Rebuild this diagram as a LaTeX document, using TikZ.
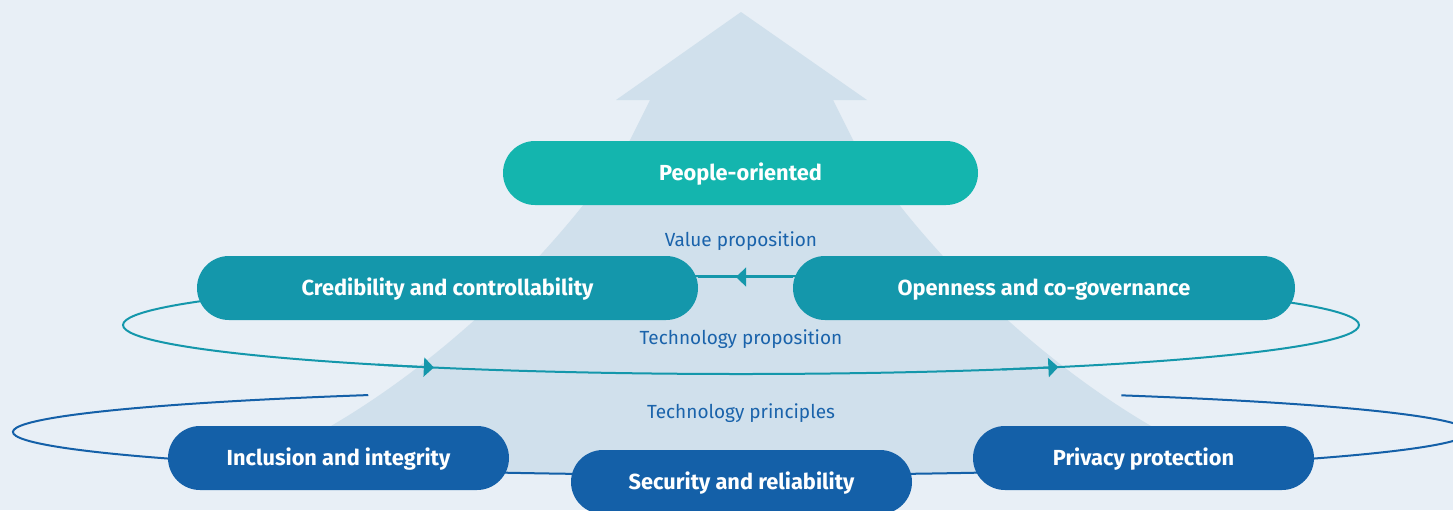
\documentclass[tikz,border=0pt]{standalone}
\usepackage{fontspec}
\setmainfont{Fira Sans}
\usetikzlibrary{arrows.meta,decorations.markings}
\definecolor{bgcol}{HTML}{E8EFF6}
\definecolor{arrowcol}{HTML}{D0E0EC}
\definecolor{topcol}{HTML}{14B5AE}
\definecolor{midcol}{HTML}{1497AB}
\definecolor{lowcol}{HTML}{1460A8}
\definecolor{labelcol}{HTML}{1A63AB}
\begin{document}
\begin{tikzpicture}[x=0.5pt, y=-0.5pt,
    pill/.style={rounded corners=16pt, minimum height=32pt, inner sep=0pt, text=white,
      text height=7.6pt, text depth=0pt, font=\bfseries\fontsize{10.9}{12}\selectfont},
    toppill/.style={pill, fill=topcol},
    midpill/.style={pill, fill=midcol},
    lowpill/.style={pill, fill=lowcol},
    caption/.style={text=labelcol, font=\fontsize{9.5}{11}\selectfont},
    tealring/.style={midcol, line width=1pt},
    bluering/.style={lowcol, line width=1pt},
    tip/.style={-{Triangle[length=5pt, width=9.5pt]}},
    midarrow/.style={postaction={decorate}, decoration={markings,
      mark=at position 0.6 with {\arrow{Triangle[length=5pt, width=9.5pt]}}}}]
    \useasboundingbox (0,0) rectangle (1453,510);
    \clip (0,0) rectangle (1453,510);
    \fill[bgcol] (0,0) rectangle (1453,510);

    % big arrow in the back
    \fill[arrowcol] (741,12) -- (867,100) -- (833,100) -- (853,140)
        .. controls (942,280) and (1102,420) .. (1252,474) -- (230,474)
        .. controls (380,420) and (540,280) .. (630,140) -- (650,100) -- (616,100) -- cycle;

    \coordinate (techring) at (741,325);
    \coordinate (princring) at (741,432);
    \draw[tealring] (techring) ellipse [x radius=618, y radius=49];
    \draw[tealring, tip] (techring) ++(126:618 and 49) arc[start angle=126, end angle=119.8, x radius=618, y radius=49];
    \draw[tealring, tip] (techring) ++(65:618 and 49) arc[start angle=65, end angle=59.1, x radius=618, y radius=49];
    \draw[bluering] (princring) ++(301.5:728 and 43) arc[start angle=301.5, end angle=599.2, x radius=728, y radius=43];

    \node[toppill, minimum width=237.5pt] (people) at (740.5,173) {People-oriented};
    \node[midpill, minimum width=250.5pt] (cred) at (447.5,288) {Credibility and controllability};
    \node[midpill, minimum width=251pt] (open) at (1044,288) {Openness and co-governance};
    \node[lowpill, minimum width=170.5pt] (incl) at (338.5,458) {Inclusion and integrity};
    \node[lowpill, minimum width=170.5pt] (secu) at (741.5,482) {Security and reliability};
    \node[lowpill, minimum width=170.5pt] (priv) at (1143.5,458) {Privacy protection};

    \draw[tealring, midarrow] ([yshift=5.5pt]open.west) -- ([yshift=5.5pt]cred.east);

    \node[caption] (valuelbl) at (741,241) {Value proposition};
    \node[caption] (techlbl) at (741,339) {Technology proposition};
    \node[caption] (princlbl) at (741,413) {Technology principles};
\end{tikzpicture}
\end{document}
